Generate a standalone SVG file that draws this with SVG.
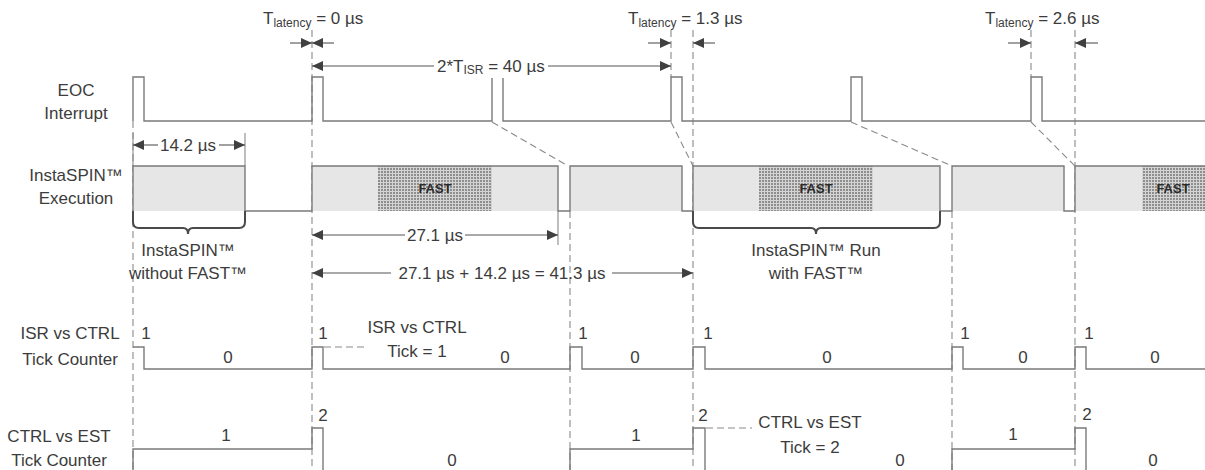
<svg xmlns="http://www.w3.org/2000/svg" width="1205" height="470" viewBox="0 0 1205 470">
<style>
text{font-family:"Liberation Sans",Arial,sans-serif;fill:#3c3c3c;font-size:17px}
.c{text-anchor:middle}
.sub{font-size:12px}
.fast{font-size:13px;font-weight:bold;fill:#2a2a2a}
.sig{fill:none;stroke:#7a7a7a;stroke-width:1.4}
.dash{fill:none;stroke:#8a8a8a;stroke-width:1.1;stroke-dasharray:7,4}
.ext{fill:none;stroke:#8a8a8a;stroke-width:1.1}
.dim{fill:none;stroke:#555;stroke-width:1.1}
.brace{fill:none;stroke:#4a4a4a;stroke-width:2}
.blk{fill:#e6e6e6}
.hat{fill:url(#hatch)}
</style>
<defs>
<pattern id="hatch" width="3" height="3" patternUnits="userSpaceOnUse">
<rect width="3" height="3" fill="#d4d4d4"/>
<rect width="2" height="2" fill="#8e8e8e"/>
</pattern>
<marker id="ah" markerUnits="userSpaceOnUse" markerWidth="11" markerHeight="10" refX="11" refY="5" orient="auto-start-reverse" viewBox="0 0 11 10">
<path d="M0,0 L11,5 L0,10 z" fill="#404040"/>
</marker>
</defs>

<g id="labels">
<text class="c" x="76" y="96">EOC</text>
<text class="c" x="76" y="119">Interrupt</text>
<text class="c" x="76" y="181">InstaSPIN™</text>
<text class="c" x="76" y="204">Execution</text>
<text class="c" x="70" y="339">ISR vs CTRL</text>
<text class="c" x="70" y="365">Tick Counter</text>
<text class="c" x="59" y="442">CTRL vs EST</text>
<text class="c" x="59" y="466">Tick Counter</text>
</g>

<g id="guides">
<path class="dash" d="M133,121 V470 M312,30 V470 M570,211 V470 M671,30 V77 M693,30 V470 M952,211 V470 M1031,30 V77 M1075,30 V470"/>
<path class="dash" d="M492,122 L568,166 M671,122 L693,166 M851,122 L952,166 M1031,122 L1075,166"/>
<path class="ext" d="M133,133 V166 M245,133 V166 M558,211 V245"/>
</g>

<g id="eoc">
<path class="sig" d="M133,121 V77 H144 V121 H312 V77 H323 V121 H492 V78 M503,78 V121 H671 V77 H682 V121 H851 V77 H862 V121 H1031 V77 H1042 V121 H1205"/>
</g>

<g id="execution">
<rect class="blk" x="133" y="166" width="112" height="45"/>
<rect class="blk" x="312" y="166" width="246" height="45"/>
<rect class="hat" x="378" y="166" width="114" height="45"/>
<rect class="blk" x="570" y="166" width="112" height="45"/>
<rect class="blk" x="693" y="166" width="247" height="45"/>
<rect class="hat" x="759" y="166" width="114" height="45"/>
<rect class="blk" x="952" y="166" width="112" height="45"/>
<rect class="blk" x="1075" y="166" width="130" height="45"/>
<rect class="hat" x="1142" y="166" width="63" height="45"/>
<path class="sig" d="M133,211 V166 H245 V211 H312 V166 H558 V211 H570 V166 H682 V211 H693 V166 H940 V211 H952 V166 H1064 V211 H1075 V166 H1205"/>
<text class="c fast" x="435" y="193">FAST</text>
<text class="c fast" x="816" y="193">FAST</text>
<text class="c fast" x="1173" y="193">FAST</text>
</g>

<g id="brace-without">
<path class="brace" d="M133,211 V222 Q133,228 139,228 H183 Q188,228 188,234 Q188,228 193,228 H239 Q245,228 245,222 V211"/>
<text class="c" x="188" y="256">InstaSPIN™</text>
<text class="c" x="188" y="279">without FAST™</text>
</g>

<g id="brace-with">
<path class="brace" d="M693,211 V222 Q693,228 699,228 H811 Q816,228 816,234 Q816,228 821,228 H934 Q940,228 940,222 V211"/>
<text class="c" x="816" y="256">InstaSPIN™ Run</text>
<text class="c" x="816" y="279">with FAST™</text>
</g>

<g id="isr-ctrl">
<path class="sig" d="M133,347 H144 V369 H312 V347 H323 V369 H570 V347 H582 V369 H693 V347 H705 V369 H952 V347 H963 V369 H1075 V347 H1086 V369 H1205"/>
<text class="c" x="146" y="339">1</text>
<text class="c" x="228" y="363">0</text>
<text class="c" x="323" y="339">1</text>
<text class="c" x="505" y="363">0</text>
<text class="c" x="583" y="339">1</text>
<text class="c" x="635" y="363">0</text>
<text class="c" x="708" y="339">1</text>
<text class="c" x="827" y="363">0</text>
<text class="c" x="965" y="339">1</text>
<text class="c" x="1023" y="363">0</text>
<text class="c" x="1089" y="339">1</text>
<text class="c" x="1155" y="363">0</text>
<path class="dash" d="M324,347 H368"/>
<text class="c" x="417" y="333">ISR vs CTRL</text>
<text class="c" x="417" y="357">Tick = 1</text>
</g>

<g id="ctrl-est">
<path class="sig" d="M133,472 V449 H312 V428 H323 V472 M570,472 V449 H693 V428 H705 V472 M952,472 V449 H1075 V428 H1086 V472"/>
<text class="c" x="226" y="441">1</text>
<text class="c" x="323" y="421">2</text>
<text class="c" x="452" y="466">0</text>
<text class="c" x="636" y="441">1</text>
<text class="c" x="703" y="421">2</text>
<text class="c" x="900" y="466">0</text>
<text class="c" x="1013" y="440">1</text>
<text class="c" x="1087" y="420">2</text>
<text class="c" x="1153" y="466">0</text>
<path class="dash" d="M706,428 H752"/>
<text class="c" x="810" y="428">CTRL vs EST</text>
<text class="c" x="810" y="453">Tick = 2</text>
</g>

<g id="connectors">
<path class="dim" marker-end="url(#ah)" d="M290,43 H312"/>
<path class="dim" marker-end="url(#ah)" d="M334,43 H312"/>
<path class="dim" marker-end="url(#ah)" d="M648,43 H671"/>
<path class="dim" marker-end="url(#ah)" d="M715,43 H693"/>
<path class="dim" marker-end="url(#ah)" d="M1008,43 H1031"/>
<path class="dim" marker-end="url(#ah)" d="M1098,43 H1075"/>
<path class="dim" marker-start="url(#ah)" d="M312,66 H434"/>
<path class="dim" marker-end="url(#ah)" d="M548,66 H671"/>
<path class="dim" marker-start="url(#ah)" d="M133,145 H158"/>
<path class="dim" marker-end="url(#ah)" d="M219,145 H245"/>
<path class="dim" marker-start="url(#ah)" d="M312,235 H405"/>
<path class="dim" marker-end="url(#ah)" d="M465,235 H558"/>
<path class="dim" marker-start="url(#ah)" d="M312,273 H391"/>
<path class="dim" marker-end="url(#ah)" d="M612,273 H693"/>
</g>

<g id="dimension-labels">
<text x="263" y="24">T<tspan class="sub" dy="3">latency</tspan><tspan dy="-3"> = 0 µs</tspan></text>
<text x="628" y="24">T<tspan class="sub" dy="3">latency</tspan><tspan dy="-3"> = 1.3 µs</tspan></text>
<text x="985" y="24">T<tspan class="sub" dy="3">latency</tspan><tspan dy="-3"> = 2.6 µs</tspan></text>
<text x="437" y="72">2*T<tspan class="sub" dy="2">ISR</tspan><tspan dy="-2"> = 40 µs</tspan></text>
<text class="c" x="188" y="151">14.2 µs</text>
<text class="c" x="435" y="241">27.1 µs</text>
<text class="c" x="502" y="279">27.1 µs + 14.2 µs = 41.3 µs</text>
</g>
</svg>
